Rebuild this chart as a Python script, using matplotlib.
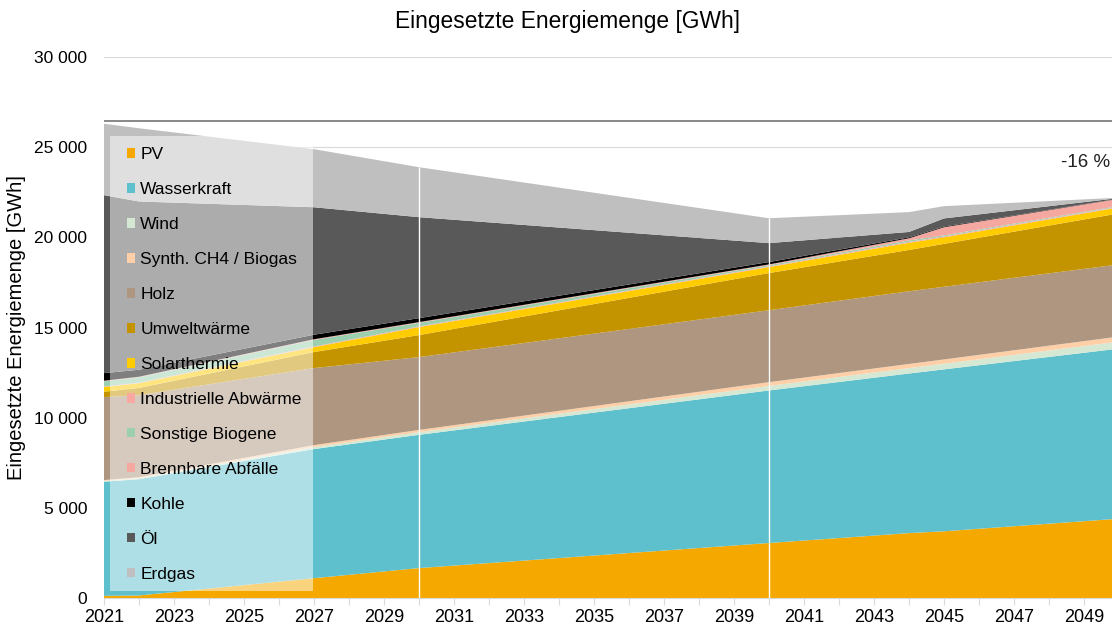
import matplotlib.pyplot as plt
from matplotlib.patches import Patch, Rectangle
from matplotlib.ticker import FuncFormatter

plt.rcParams['font.family'] = ['Liberation Sans', 'DejaVu Sans']

years = [2021, 2022, 2027, 2030, 2040, 2044, 2045, 2050]

# GWh per source, bottom to top of the stack
pv = [120, 140, 1100, 1660, 3050, 3600, 3700, 4400]
wasserkraft = [6330, 6450, 7160, 7390, 8460, 8850, 8980, 9430]
wind = [50, 60, 120, 150, 250, 300, 310, 390]
synth = [40, 50, 100, 120, 210, 230, 240, 280]
holz = [4600, 4550, 4270, 4040, 3990, 4030, 4030, 4000]
umwelt = [300, 400, 890, 1220, 2060, 2290, 2380, 2830]
solar = [260, 260, 270, 440, 330, 400, 360, 330]
ind_abw = [30, 30, 40, 40, 40, 50, 50, 40]
biogene = [290, 300, 360, 200, 70, 80, 60, 40]
abfaelle = [30, 30, 40, 40, 40, 120, 450, 400]
kohle = [420, 390, 250, 220, 130, 50, 40, 10]
oel = [9870, 9330, 7070, 5600, 1050, 300, 450, 30]
erdgas = [3960, 4060, 3220, 2770, 1380, 1100, 680, 20]

labels = ["PV", "Wasserkraft", "Wind", "Synth. CH4 / Biogas", "Holz", "Umweltwärme",
          "Solarthermie", "Industrielle Abwärme", "Sonstige Biogene", "Brennbare Abfälle",
          "Kohle", "Öl", "Erdgas"]
series = [pv, wasserkraft, wind, synth, holz, umwelt, solar, ind_abw, biogene,
          abfaelle, kohle, oel, erdgas]
colors = ["#F5A800", "#5FC0CD", "#D5E8D4", "#FFD0A8", "#AE9680", "#C49400",
          "#FFCC00", "#F8A8A0", "#9CCFAE", "#F4A8A0", "#000000", "#595959", "#BFBFBF"]

ref_2021 = 26450   # level line of the starting year
change_label = "-16 %"
marker_years = [2030, 2040]

fig = plt.figure(figsize=(11.12, 6.26), dpi=100)
ax = fig.add_axes([0.0935, 0.0447, 0.9065, 0.8642])

ax.stackplot(years, *series, colors=colors, linewidth=0, zorder=2)

totals = [sum(s[i] for s in series) for i in range(len(years))]
for y in marker_years:
    ax.vlines(y, 0, totals[years.index(y)], color="white", lw=1, zorder=3)

ax.axhline(ref_2021, color="#7F7F7F", lw=1.3, zorder=4)
ax.text(2049.75, 24150, change_label, ha="right", va="center", fontsize=13.5,
        color="#222222", zorder=5)

ax.set_xlim(2021, 2049.8)
ax.set_ylim(0, 30000)
ax.set_yticks(range(0, 30001, 5000))
ax.yaxis.set_major_formatter(FuncFormatter(lambda v, p: f"{int(v):,}".replace(",", " ")))
ax.set_xticks(range(2021, 2050))
ax.set_xticklabels([str(y) if (y - 2021) % 2 == 0 else "" for y in range(2021, 2050)])
ax.tick_params(axis="y", length=0, labelsize=12.5, pad=12)
ax.tick_params(axis="x", length=5, color="#D9D9D9", labelsize=13, pad=3)
ax.grid(axis="y", color="#D9D9D9", lw=0.8, zorder=0)
ax.set_axisbelow(True)
for side in ["left", "top", "right"]:
    ax.spines[side].set_visible(False)
ax.spines["bottom"].set_color("#D9D9D9")

ax.set_ylabel("Eingesetzte Energiemenge [GWh]", fontsize=14.5, labelpad=6)
fig.text(0.51, 0.965, "Eingesetzte Energiemenge [GWh]", fontsize=16.4, ha="center", va="center")

# semi-transparent box behind the legend entries
ax.add_patch(Rectangle((0.006, 0.013), 0.2014, 0.841, transform=ax.transAxes,
                       facecolor="white", alpha=0.5, edgecolor="none", zorder=5))
handles = [Patch(facecolor=c, edgecolor="none") for c in colors]
leg = ax.legend(handles, labels, loc="upper left", bbox_to_anchor=(0.0225, 0.8335),
                fontsize=12.5, handlelength=0.48, handleheight=0.48,
                handletextpad=0.3, labelspacing=1.15, borderaxespad=0, borderpad=0,
                frameon=False)
leg.set_zorder(6)

fig.savefig("out.png", dpi=100)
